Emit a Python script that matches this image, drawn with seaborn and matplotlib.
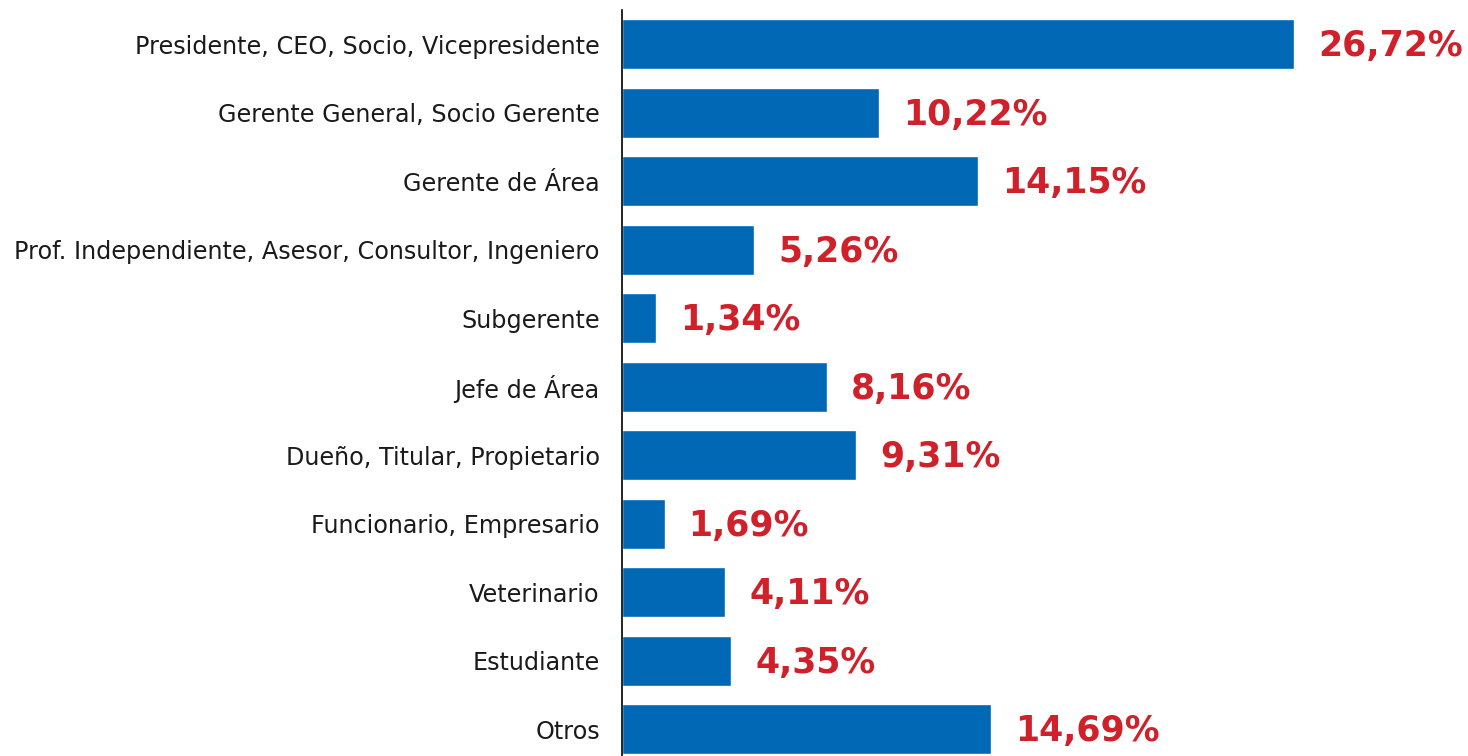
import pandas as pd
import matplotlib
matplotlib.use("Agg")
import matplotlib.pyplot as plt
import seaborn as sns

# ── Data ──────────────────────────────────────────────────────────────────────
categories = [
    "Presidente, CEO, Socio, Vicepresidente",
    "Gerente General, Socio Gerente",
    "Gerente de Área",
    "Prof. Independiente, Asesor, Consultor, Ingeniero",
    "Subgerente",
    "Jefe de Área",
    "Dueño, Titular, Propietario",
    "Funcionario, Empresario",
    "Veterinario",
    "Estudiante",
    "Otros",
]
values = [26.72, 10.22, 14.15, 5.26, 1.34, 8.16, 9.31, 1.69, 4.11, 4.35, 14.69]
labels = ["26,72%", "10,22%", "14,15%", "5,26%", "1,34%", "8,16%",
          "9,31%", "1,69%", "4,11%", "4,35%", "14,69%"]

BAR_COLOR = "#0068B4"
LABEL_COLOR = "#D0202A"

df = pd.DataFrame({"cargo": categories, "pct": values})

sns.set_theme(style="white")
plt.rcParams["font.family"] = ["DejaVu Sans"]

W, H, DPI = 1468, 756, 100
fig = plt.figure(figsize=(W / DPI, H / DPI), dpi=DPI)
ax = fig.add_axes([622 / W, 0, (W - 622) / W, 746 / H])

sns.barplot(data=df, x="pct", y="cargo", color=BAR_COLOR, saturation=1,
            width=0.73, ax=ax)

for i, (v, lab) in enumerate(zip(values, labels)):
    ax.annotate(lab, xy=(v, i), xytext=(24, -2), textcoords="offset pixels",
                ha="left", va="center", fontsize=25, fontweight="bold",
                color=LABEL_COLOR)

ax.set_xlim(0, 33.64)
ax.set_ylim(10.39, -0.5)
ax.set_xlabel("")
ax.set_ylabel("")
ax.set_xticks([])
ax.tick_params(axis="y", length=0, pad=16, labelsize=17.2, labelcolor="#1a1a1a")
for s in ["top", "right", "bottom"]:
    ax.spines[s].set_visible(False)
ax.spines["left"].set_color("black")
ax.spines["left"].set_linewidth(1.2)

fig.savefig("out.png", dpi=DPI)
